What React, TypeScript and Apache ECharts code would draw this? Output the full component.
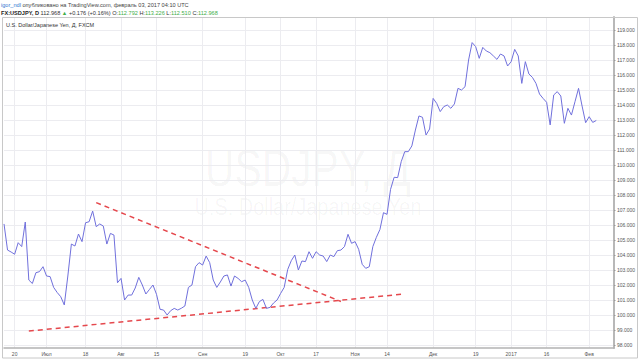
import React, { useEffect, useRef } from "react";
import * as echarts from "echarts";

// Trading-day range shown on the chart (weekdays only)
const firstDay = "2016-06-15";
const lastDay = "2017-02-03";
const rightPadSlots = ["pad1", "pad2", "pad3", "pad4", "pad5"];

// Daily closes, USD/JPY (FXCM)
const closes = [
  106.07, 104.33, 104.2, 104.05, 104.82, 104.56, 106.2, 102.33, 102.1, 102.82,
  102.89, 103.22, 102.6, 102.56, 101.84, 101.5, 101.22, 100.67, 102.6, 104.73,
  104.6, 105.4, 104.89, 106.15, 106.22, 106.93, 105.89, 106.07, 105.93, 104.73,
  105.44, 105.33, 102.15, 102.44, 101.0, 101.33, 101.33, 101.8, 102.51, 102.0,
  101.4, 101.7, 102.0, 101.38, 100.38, 100.33, 100.0, 100.29, 100.44, 100.33,
  100.45, 100.6, 101.84, 102.0, 103.22, 103.49, 103.33, 103.93, 103.49, 102.33,
  101.84, 102.2, 102.6, 102.67, 101.93, 102.6, 102.44, 102.22, 102.33, 101.84,
  101.0, 100.44, 100.89, 101.04, 100.44, 100.51, 100.8, 101.0, 101.44, 101.84,
  103.04, 103.62, 104.0, 103.0, 103.6, 103.56, 104.22, 103.78, 104.22, 104.0,
  103.93, 103.56, 104.0, 103.89, 104.29, 104.33, 104.56, 105.38, 104.78, 104.89,
  104.38, 103.38, 103.11, 103.22, 104.56, 105.18, 105.7, 106.82, 106.71, 108.38,
  109.18, 109.16, 110.22, 110.89, 110.89, 111.27, 112.33, 113.27, 113.18, 112.0,
  112.4, 114.44, 114.11, 113.56, 113.89, 114.0, 113.78, 114.07, 115.11, 115.0,
  115.22, 117.0, 118.16, 117.89, 117.11, 117.84, 117.6, 117.49, 117.27, 117.04,
  117.4, 117.27, 116.6, 116.89, 117.71, 117.27, 115.44, 116.89, 116.07, 115.84,
  115.44, 114.73, 114.44, 114.18, 112.67, 114.67, 114.89, 114.6, 112.78, 113.78,
  113.33, 114.22, 115.11, 113.93, 112.82, 113.22, 112.84, 112.968,
];

// Hand-drawn dashed trend lines: [category index, price]
const upperTrend = [
  [26, 107.49],
  [95, 100.9],
];
const lowerTrend = [
  [7, 98.93],
  [112, 101.38],
];

// Time-axis tick labels
const tickLabels: Record<string, string> = {
  "2016-06-20": "20",
  "2016-07-01": "Июл",
  "2016-07-18": "18",
  "2016-08-01": "Авг",
  "2016-08-15": "15",
  "2016-09-01": "Сен",
  "2016-09-19": "19",
  "2016-10-03": "Окт",
  "2016-10-17": "17",
  "2016-11-01": "Ноя",
  "2016-11-14": "14",
  "2016-12-01": "Дек",
  "2016-12-19": "19",
  "2017-01-02": "2017",
  "2017-01-16": "16",
  "2017-02-01": "Фев",
};

const yMin = 97;
const yMax = 120;
const yStep = 1;

function weekdays(from: string, to: string): string[] {
  const out: string[] = [];
  const d = new Date(from + "T00:00:00Z");
  const end = new Date(to + "T00:00:00Z");
  while (d.getTime() <= end.getTime()) {
    const wd = d.getUTCDay();
    if (wd !== 0 && wd !== 6) out.push(d.toISOString().slice(0, 10));
    d.setUTCDate(d.getUTCDate() + 1);
  }
  return out;
}

const FONT = "'Liberation Sans', Arial, sans-serif";
const HF = 5.6;

export default function App() {
  const ref = useRef<HTMLDivElement>(null);

  useEffect(() => {
    if (!ref.current) return;
    const chart = echarts.init(ref.current, undefined, { renderer: "svg" });
    const categories = [...weekdays(firstDay, lastDay), ...rightPadSlots];
    const lastPrice = closes[closes.length - 1];
    const showTick = (_i: number, v: string) => tickLabels[v] !== undefined;

    chart.setOption({
      animation: false,
      backgroundColor: "#ffffff",
      grid: [
        { left: 4, right: 26, top: 15, bottom: 0, containLabel: false },
        { left: 4, right: 26, top: 17, bottom: 12, containLabel: false },
      ],
      xAxis: [
        {
          type: "category",
          gridIndex: 0,
          data: categories,
          boundaryGap: false,
          show: false,
        },
        {
          type: "category",
          gridIndex: 1,
          data: categories,
          boundaryGap: false,
          axisLine: { show: true, lineStyle: { color: "#b3b3b3", width: 1.5 } },
          axisTick: { show: false },
          axisLabel: {
            interval: showTick,
            formatter: (v: string) => tickLabels[v] ?? "",
            fontSize: 5,
            fontFamily: FONT,
            color: "#555",
            margin: 3,
          },
          splitLine: {
            show: true,
            interval: showTick,
            lineStyle: { color: "#ececf0", width: 1 },
          },
        },
      ],
      yAxis: [
        {
          type: "value",
          gridIndex: 0,
          position: "right",
          min: yMin,
          max: yMax,
          interval: yStep,
          axisLine: { show: false },
          axisTick: { show: true, length: 1.5, lineStyle: { color: "#999" } },
          axisLabel: {
            fontSize: 5,
            fontFamily: FONT,
            color: "#555",
            margin: 3,
            showMinLabel: false,
            showMaxLabel: false,
            formatter: (v: number) => v.toFixed(3),
          },
          splitLine: {
            show: true,
            showMinLine: false,
            showMaxLine: false,
            lineStyle: { color: "#ececf0", width: 1 },
          },
        },
        {
          type: "value",
          gridIndex: 1,
          position: "right",
          min: 0,
          max: 1,
          axisLine: { show: true, lineStyle: { color: "#b8b8b8", width: 2 } },
          axisTick: { show: false },
          axisLabel: { show: false },
          splitLine: { show: false },
        },
      ],
      series: [
        {
          type: "line",
          xAxisIndex: 0,
          yAxisIndex: 0,
          data: closes,
          showSymbol: false,
          symbol: "none",
          lineStyle: { color: "#7070dc", width: 1 },
          z: 5,
          markLine: {
            silent: true,
            symbol: "none",
            lineStyle: { opacity: 0 },
            data: [{ yAxis: lastPrice }],
            label: {
              position: "end",
              formatter: lastPrice.toFixed(3),
              backgroundColor: "#2626e3",
              color: "#ffffff",
              fontSize: 5,
              fontFamily: FONT,
              padding: [1.5, 2, 1, 2],
              distance: 1.5,
            },
          },
        },
        {
          type: "line",
          xAxisIndex: 0,
          yAxisIndex: 0,
          data: upperTrend,
          showSymbol: false,
          symbol: "none",
          lineStyle: { color: "#e5484d", width: 1.5, type: [5, 4] },
          z: 4,
        },
        {
          type: "line",
          xAxisIndex: 0,
          yAxisIndex: 0,
          data: lowerTrend,
          showSymbol: false,
          symbol: "none",
          lineStyle: { color: "#e5484d", width: 1.5, type: [5, 4] },
          z: 4,
        },
      ],
      graphic: [
        {
          type: "text",
          x: 308,
          y: 168,
          z: -10,
          scaleX: 0.8,
          style: {
            text: "USDJPY, Д",
            font: `51px ${FONT}`,
            fill: "rgba(0,0,0,0.04)",
            align: "center",
            verticalAlign: "middle",
          },
        },
        {
          type: "text",
          x: 308,
          y: 207,
          z: -10,
          scaleX: 0.83,
          style: {
            text: "U.S. Dollar/Japanese Yen",
            font: `24px ${FONT}`,
            fill: "rgba(0,0,0,0.04)",
            align: "center",
            verticalAlign: "middle",
          },
        },
        {
          type: "rect",
          z: 20,
          shape: { x: 2.5, y: 17.5, width: 635, height: 340.5 },
          style: { fill: "none", stroke: "#c8c8c8", lineWidth: 1 },
        },
        {
          type: "text",
          x: 1,
          y: 5,
          z: 20,
          style: {
            text: "{u|igor_ndl} {t|опубликовано на TradingView.com, февраль 03, 2017 04:10 UTC}",
            font: `${HF}px ${FONT}`,
            verticalAlign: "middle",
            rich: {
              u: { fill: "#2f74d0", font: `${HF}px ${FONT}` },
              t: { fill: "#444", font: `${HF}px ${FONT}` },
            },
          },
        },
        {
          type: "text",
          x: 1,
          y: 12.5,
          z: 20,
          style: {
            text:
              "{b|FX:USDJPY, D} {d|112.968} {g|▲} {d|+0.176 (+0.16%)} {d|O:}{g|112.792} {d|H:}{g|113.226} {d|L:}{g|112.510} {d|C:}{g|112.968}",
            font: `${HF}px ${FONT}`,
            verticalAlign: "middle",
            rich: {
              b: { fill: "#222", font: `bold ${HF}px ${FONT}` },
              d: { fill: "#333", font: `${HF}px ${FONT}` },
              g: { fill: "#3fae49", font: `${HF}px ${FONT}` },
            },
          },
        },
        {
          type: "text",
          x: 6,
          y: 25,
          z: 20,
          style: {
            text: "U.S. Dollar/Japanese Yen, Д, FXCM",
            font: `5.5px ${FONT}`,
            fill: "#333",
            verticalAlign: "middle",
          },
        },
      ],
    });

    return () => chart.dispose();
  }, []);

  return (
    <div
      ref={ref}
      style={{ position: "absolute", left: 0, top: 0, width: 640, height: 360 }}
    />
  );
}
